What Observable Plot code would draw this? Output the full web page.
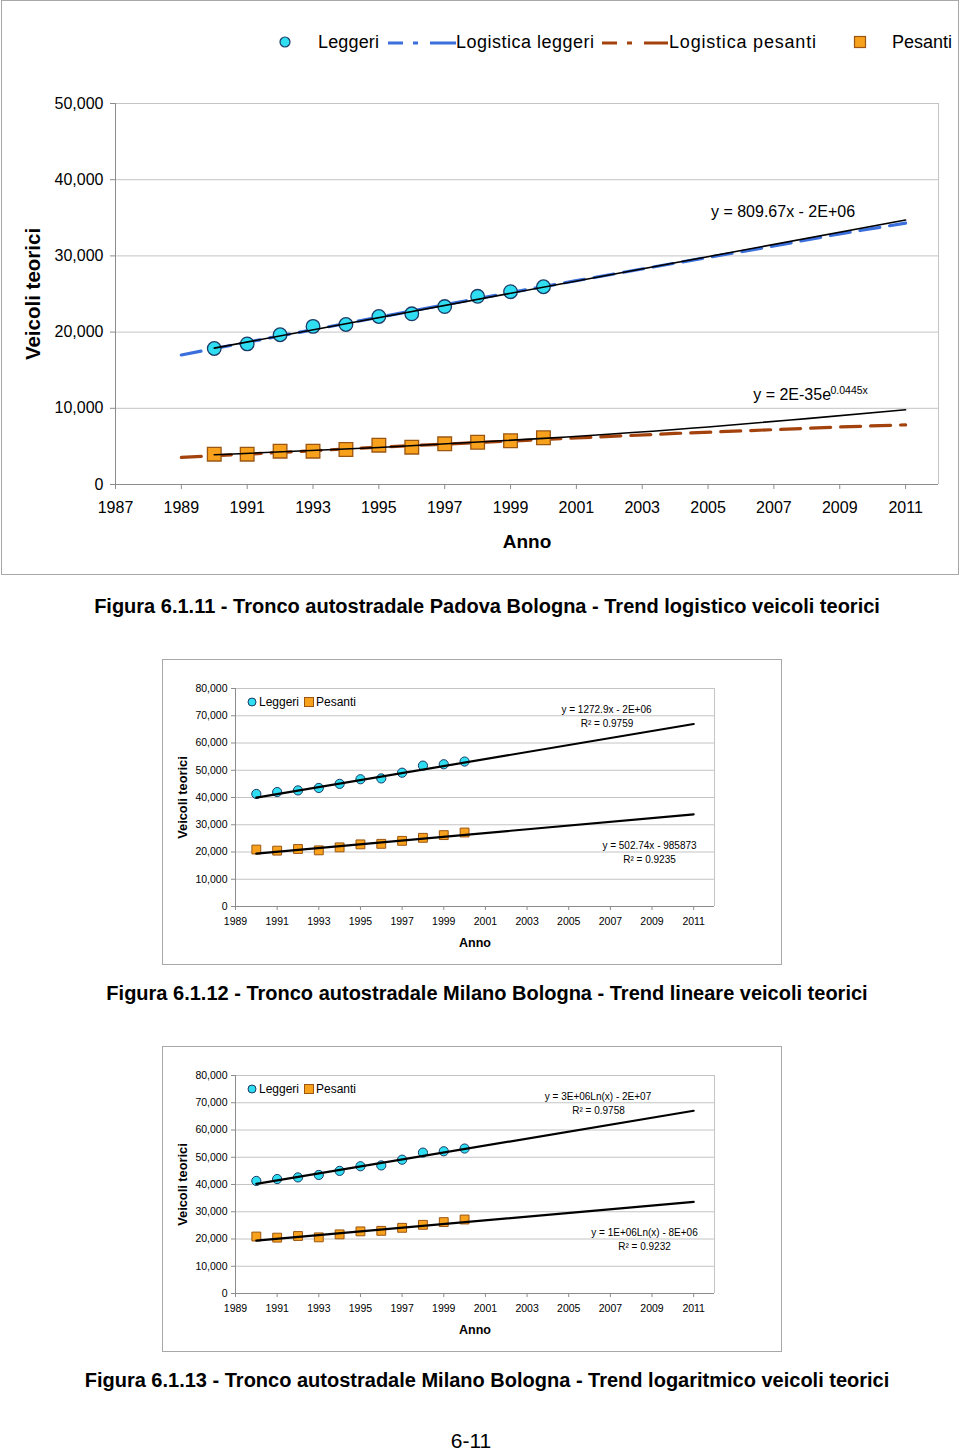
<!DOCTYPE html>
<html><head><meta charset="utf-8">
<script src="https://cdn.jsdelivr.net/npm/d3@7"></script>
<script src="https://cdn.jsdelivr.net/npm/@observablehq/plot@0.6"></script>
<style>
body{margin:0;background:#fff;font-family:"Liberation Sans",Arial,Helvetica,sans-serif;}
#page{position:relative;width:960px;height:1451px;overflow:hidden;background:#fff;}
.frame{position:absolute;border:1.5px solid #a8a8a8;box-sizing:border-box;}
.cap{position:absolute;transform:translate(-50%,-50%);white-space:nowrap;font-weight:bold;font-size:20px;color:#000;}
</style></head><body><div id="page"></div>
<script>
// ---------- Data: Padova Bologna (Figura 6.1.11) ----------
const years = [1990, 1991, 1992, 1993, 1994, 1995, 1996, 1997, 1998, 1999, 2000];
const padovaLeggeri = [17850, 18450, 19650, 20750, 21000, 22050, 22400, 23350, 24700, 25300, 25950];
const padovaPesanti = [3980, 3980, 4370, 4370, 4590, 5160, 4900, 5340, 5550, 5740, 6130];
const padovaLinYears = [1990, 2011];
const padovaLinLeggeri = [17900, 34700];
const padovaExpYears = [1990, 1995, 2000, 2005, 2008, 2011];
const padovaExpPesanti = [3900, 4850, 6050, 7550, 8650, 9800];
const logisticYears = [1989, 1992, 1995, 1998, 2001, 2004, 2007, 2009, 2011];
const logisticLeggeri = [17000, 19500, 21950, 24400, 26750, 29050, 31300, 32900, 34300];
const logisticPesanti = [3550, 4200, 4900, 5500, 6100, 6700, 7200, 7550, 7830];
const padovaXTicks = [1987, 1989, 1991, 1993, 1995, 1997, 1999, 2001, 2003, 2005, 2007, 2009, 2011];
const padovaYTicks = [0, 10000, 20000, 30000, 40000, 50000];

// ---------- Data: Milano Bologna (Figure 6.1.12 / 6.1.13) ----------
const milanoLeggeri = [41300, 42000, 42600, 43500, 45000, 46700, 47000, 49100, 51700, 52200, 53200];
const milanoPesanti = [20900, 20500, 21100, 20600, 21700, 22800, 23000, 24100, 25200, 26200, 27150];
const trendYears = [1990, 2011];
const linLeggeri = [39960, 66970];
const linPesanti = [19410, 33840];
const logLeggeri = [40220, 67060];
const logPesanti = [19380, 33600];
const milanoXTicks = [1989, 1991, 1993, 1995, 1997, 1999, 2001, 2003, 2005, 2007, 2009, 2011];
const milanoYTicks = [0, 10000, 20000, 30000, 40000, 50000, 60000, 70000, 80000];

const seriesNames = ["Leggeri", "Logistica leggeri", "Logistica pesanti", "Pesanti"];
const captions = [
  "Figura 6.1.11 - Tronco autostradale Padova Bologna - Trend logistico veicoli teorici",
  "Figura 6.1.12 - Tronco autostradale Milano Bologna - Trend lineare veicoli teorici",
  "Figura 6.1.13 - Tronco autostradale Milano Bologna - Trend logaritmico veicoli teorici"
];

// ---------- Styles ----------
const FONT = "'Liberation Sans', Arial, Helvetica, sans-serif";
const CYAN = "#30def2", NAVY = "#1b3a66", ORANGE = "#f8a11c", BROWN = "#9b5612";
const BLUE = "#3b6fdc", RUST = "#a3420c", GRID = "#c4c4c4", AXIS = "#8c8c8c";
const fmtComma = d3.format(",");
const fmtYear = d3.format("d");

const page = document.getElementById("page");
function place(el, left, top) {
  el.style.position = "absolute"; el.style.left = left + "px"; el.style.top = top + "px";
  page.appendChild(el); return el;
}
function frame(left, top, w, h) {
  const d = document.createElement("div"); d.className = "frame";
  d.style.width = w + "px"; d.style.height = h + "px";
  return place(d, left, top);
}
const pts = (xs, vs) => xs.map((x, i) => ({x, v: vs[i]}));

// ---------- Chart 1 ----------
frame(1, 0, 958, 575);
const chart1 = Plot.plot({
  width: 960, height: 574,
  marginLeft: 115, marginRight: 22, marginTop: 103, marginBottom: 90,
  style: {fontFamily: FONT, fontSize: "16px", color: "#000", background: "transparent", overflow: "visible"},
  x: {domain: [1987, 2012]},
  y: {domain: [0, 50000]},
  marks: [
    Plot.gridY(padovaYTicks, {stroke: GRID, strokeOpacity: 1}),
    Plot.ruleX([2012], {stroke: GRID}),
    Plot.axisY({ticks: padovaYTicks, tickFormat: fmtComma, tickSize: 5, tickPadding: 7, label: null, stroke: AXIS, fill: "#000"}),
    Plot.axisX({ticks: padovaXTicks, tickFormat: fmtYear, tickSize: 5, tickPadding: 12, label: null, stroke: AXIS, fill: "#000"}),
    Plot.ruleX([1987], {stroke: AXIS}),
    Plot.ruleY([0], {stroke: AXIS}),
    Plot.line(pts(logisticYears, logisticLeggeri), {x: "x", y: "v", stroke: BLUE, strokeWidth: 3.2, strokeDasharray: "20,10"}),
    Plot.line(pts(logisticYears, logisticPesanti), {x: "x", y: "v", stroke: RUST, strokeWidth: 3.2, strokeDasharray: "20,10"}),
    Plot.dot(pts(years, padovaLeggeri), {x: "x", y: "v", r: 6.8, fill: CYAN, stroke: NAVY, strokeWidth: 1.3}),
    Plot.dot(pts(years, padovaPesanti), {x: "x", y: "v", symbol: "square", r: 7.7, fill: ORANGE, stroke: BROWN, strokeWidth: 1.3}),
    Plot.line(pts(padovaLinYears, padovaLinLeggeri), {x: "x", y: "v", stroke: "#000", strokeWidth: 1.6}),
    Plot.line(pts(padovaExpYears, padovaExpPesanti), {x: "x", y: "v", stroke: "#000", strokeWidth: 1.6, curve: "monotone-x"}),
    Plot.text(["y = 809.67x - 2E+06"], {text: d => d, frameAnchor: "top-right", dx: -155.5, dy: 108, textAnchor: "middle", lineAnchor: "middle", fontSize: 16}),
    Plot.text(["y = 2E-35e"], {text: d => d, frameAnchor: "top-right", dx: -185.3, dy: 291, textAnchor: "start", lineAnchor: "middle", fontSize: 16}),
    Plot.text(["0.0445x"], {text: d => d, frameAnchor: "top-right", dx: -108, dy: 287, textAnchor: "start", lineAnchor: "middle", fontSize: 10.5}),
    Plot.text(["Anno"], {text: d => d, frameAnchor: "bottom", dy: 57, lineAnchor: "middle", fontWeight: "bold", fontSize: 19}),
    Plot.text(["Veicoli teorici"], {text: d => d, frameAnchor: "left", dx: -82, rotate: -90, textAnchor: "middle", lineAnchor: "middle", fontWeight: "bold", fontSize: 20.5})
  ]
});
place(chart1, 0, 0);

// Legend chart 1
(function () {
  const svg = d3.create("svg").attr("width", 960).attr("height", 70)
    .style("font-family", FONT).style("font-size", "18px");
  const y = 42;
  svg.append("circle").attr("cx", 285).attr("cy", y).attr("r", 5).attr("fill", CYAN).attr("stroke", NAVY).attr("stroke-width", 1.2);
  svg.append("text").attr("x", 318).attr("y", y).attr("dy", "0.35em").attr("textLength", 61).text(seriesNames[0]);
  svg.append("line").attr("x1", 388).attr("x2", 456).attr("y1", y + 1).attr("y2", y + 1).attr("stroke", BLUE).attr("stroke-width", 3).attr("stroke-dasharray", "15,10,5,12,26");
  svg.append("text").attr("x", 456).attr("y", y).attr("dy", "0.35em").attr("textLength", 138).text(seriesNames[1]);
  svg.append("line").attr("x1", 602).attr("x2", 668).attr("y1", y + 1).attr("y2", y + 1).attr("stroke", RUST).attr("stroke-width", 3).attr("stroke-dasharray", "15,10,5,12,26");
  svg.append("text").attr("x", 669).attr("y", y).attr("dy", "0.35em").attr("textLength", 147).text(seriesNames[2]);
  svg.append("rect").attr("x", 854.5).attr("y", y - 5.5).attr("width", 11).attr("height", 11).attr("fill", ORANGE).attr("stroke", BROWN).attr("stroke-width", 1.2);
  svg.append("text").attr("x", 892).attr("y", y).attr("dy", "0.35em").attr("textLength", 60).text(seriesNames[3]);
  place(svg.node(), 0, 0);
})();

// ---------- Small charts ----------
function smallChart(top, trendL, trendP, eqL, r2L, eqP, r2P) {
  frame(162, top, 620, 306);
  const chart = Plot.plot({
    width: 960, height: 305,
    marginLeft: 235, marginRight: 246, marginTop: 29, marginBottom: 58,
    style: {fontFamily: FONT, fontSize: "10.5px", color: "#000", background: "transparent", overflow: "visible"},
    x: {domain: [1989, 2012]},
    y: {domain: [0, 80000]},
    marks: [
      Plot.gridY(milanoYTicks, {stroke: GRID, strokeOpacity: 1}),
      Plot.ruleX([2012], {stroke: GRID}),
      Plot.axisY({ticks: milanoYTicks, tickFormat: fmtComma, tickSize: 4, tickPadding: 4, label: null, stroke: AXIS, fill: "#000"}),
      Plot.axisX({ticks: milanoXTicks, tickFormat: fmtYear, tickSize: 4, tickPadding: 7, label: null, stroke: AXIS, fill: "#000"}),
      Plot.ruleX([1989], {stroke: AXIS}),
      Plot.ruleY([0], {stroke: AXIS}),
      Plot.dot(pts(years, milanoLeggeri), {x: "x", y: "v", r: 4.6, fill: CYAN, stroke: NAVY, strokeWidth: 1}),
      Plot.dot(pts(years, milanoPesanti), {x: "x", y: "v", symbol: "square", r: 5, fill: ORANGE, stroke: BROWN, strokeWidth: 1}),
      Plot.line(pts(trendYears, trendL), {x: "x", y: "v", stroke: "#000", strokeWidth: 2.2}),
      Plot.line(pts(trendYears, trendP), {x: "x", y: "v", stroke: "#000", strokeWidth: 2.2}),
      Plot.text([eqL[0]], {text: d => d, frameAnchor: "top-right", dx: eqL[1], dy: 21, textAnchor: "middle", lineAnchor: "middle", fontSize: 10}),
      Plot.text([r2L[0]], {text: d => d, frameAnchor: "top-right", dx: r2L[1], dy: 35, textAnchor: "middle", lineAnchor: "middle", fontSize: 10}),
      Plot.text([eqP[0]], {text: d => d, frameAnchor: "top-right", dx: eqP[1], dy: 157.5, textAnchor: "middle", lineAnchor: "middle", fontSize: 10}),
      Plot.text([r2P[0]], {text: d => d, frameAnchor: "top-right", dx: r2P[1], dy: 171, textAnchor: "middle", lineAnchor: "middle", fontSize: 10}),
      Plot.text(["Anno"], {text: d => d, frameAnchor: "bottom", dy: 36, lineAnchor: "middle", fontWeight: "bold", fontSize: 12.5}),
      Plot.text(["Veicoli teorici"], {text: d => d, frameAnchor: "left", dx: -53, rotate: -90, textAnchor: "middle", lineAnchor: "middle", fontWeight: "bold", fontSize: 12.8})
    ]
  });
  place(chart, 0, top);
  // legend inside plot area
  const svg = d3.create("svg").attr("width", 130).attr("height", 20)
    .style("font-family", FONT).style("font-size", "12px");
  const y = 10;
  svg.append("circle").attr("cx", 7).attr("cy", y).attr("r", 4).attr("fill", CYAN).attr("stroke", NAVY).attr("stroke-width", 1);
  svg.append("text").attr("x", 14).attr("y", y).attr("dy", "0.35em").text(seriesNames[0]);
  svg.append("rect").attr("x", 59.5).attr("y", y - 4.5).attr("width", 9).attr("height", 9).attr("fill", ORANGE).attr("stroke", BROWN).attr("stroke-width", 1);
  svg.append("text").attr("x", 71).attr("y", y).attr("dy", "0.35em").text(seriesNames[3]);
  place(svg.node(), 245, top + 33);
}
smallChart(659, linLeggeri, linPesanti,
  ["y = 1272.9x - 2E+06", -108], ["R² = 0.9759", -107.5],
  ["y = 502.74x - 985873", -65], ["R² = 0.9235", -65]);
smallChart(1046, logLeggeri, logPesanti,
  ["y = 3E+06Ln(x) - 2E+07", -116.5], ["R² = 0.9758", -116],
  ["y = 1E+06Ln(x) - 8E+06", -70], ["R² = 0.9232", -70]);

// ---------- Captions ----------
[606, 993, 1380].forEach((y, i) => {
  const d = document.createElement("div"); d.className = "cap"; d.textContent = captions[i];
  place(d, 487, y);
});
const foot = document.createElement("div");
foot.textContent = "6-11";
foot.style.fontSize = "21px"; foot.style.transform = "translate(-50%,-50%)";
place(foot, 471, 1441);
</script>
</body></html>
